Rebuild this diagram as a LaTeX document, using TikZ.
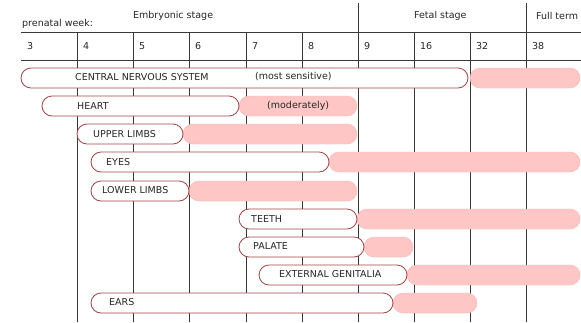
\documentclass[tikz,border=0pt]{standalone}
\usepackage{fontspec}
\setmainfont{DejaVu Sans}
\usetikzlibrary{shapes.misc}
\definecolor{gridc}{RGB}{55,55,55}
\definecolor{barline}{RGB}{160,70,70}
\definecolor{pinkfill}{RGB}{255,198,198}
\begin{document}
\begin{tikzpicture}[x=1pt,y=-1pt,
  every node/.style={font=\fontsize{9.5}{11}\selectfont, text=black!85},
  grid/.style={draw=gridc, line width=0.8pt},
  wbar/.style={rounded rectangle, draw=barline, fill=white, line width=0.8pt, minimum height=20pt, inner sep=0pt},
  pbar/.style={rounded rectangle, fill=pinkfill, draw=pinkfill!90!barline, line width=0.4pt, minimum height=20pt, inner sep=0pt},
  lab/.style={anchor=west, inner sep=0pt}]
\useasboundingbox (0,0) rectangle (581,322);
\fill[white] (0,0) rectangle (581,322);
% grid
\coordinate (hl1a) at (21,32); \coordinate (hl1b) at (581,32);
\coordinate (hl2a) at (21,60); \coordinate (hl2b) at (581,60);
\draw[grid] (hl1a) -- (hl1b);
\draw[grid] (hl2a) -- (hl2b);
\foreach \x in {77,133,189,246,302,358,414,470,526}{
  \draw[grid] (\x,32) -- (\x,322);
}
\draw[grid] (358,3) -- (358,32);
\draw[grid] (526,3) -- (526,32);
% header texts
\node[lab] (pw) at (22,24) {prenatal week:};
\node[lab] (emb) at (133,16) {Embryonic stage};
\node[lab] (fet) at (414,16) {Fetal stage};
\node[lab] (ft) at (536,16) {Full term};
\foreach \x/\t in {21/3,77/4,133/5,189/6,246/7,302/8,358/9,414/16,470/32,526/38}{
  \node[lab] (wk\t) at (\x+6,46) {\t};
}
% bars: pink parts
\node[pbar, minimum width=110pt] (cnsp) at (525,78) {};
\node[pbar, minimum width=118pt] (heartp) at (298,106) {};
\node[pbar, minimum width=174pt] (upperp) at (270,134) {};
\node[pbar, minimum width=251pt] (eyesp) at (454.5,162) {};
\node[pbar, minimum width=168pt] (lowerp) at (273,191) {};
\node[pbar, minimum width=223pt] (teethp) at (468.5,219) {};
\node[pbar, minimum width=49pt] (palatep) at (388.5,247) {};
\node[pbar, minimum width=173pt] (extp) at (493.5,275) {};
\node[pbar, minimum width=84pt] (earsp) at (435,303) {};
% bars: white parts
\node[wbar, minimum width=447pt] (cns) at (244.5,78) {};
\node[wbar, minimum width=197pt] (heart) at (140.5,106) {};
\node[wbar, minimum width=106pt] (upper) at (130,134) {};
\node[wbar, minimum width=238pt] (eyes) at (210,162) {};
\node[wbar, minimum width=98pt] (lower) at (140,191) {};
\node[wbar, minimum width=118pt] (teeth) at (298,219) {};
\node[wbar, minimum width=125pt] (palate) at (301.5,247) {};
\node[wbar, minimum width=148pt] (ext) at (333,275) {};
\node[wbar, minimum width=302pt] (ears) at (242,303) {};
% labels
\node[lab] (cnst) at (75,77) {CENTRAL NERVOUS SYSTEM};
\node[lab] (cnss) at (255,77) {(most sensitive)};
\node[lab] (heartt) at (77,106) {HEART};
\node[lab] (heartm) at (267,106) {(moderately)};
\node[lab] (uppert) at (93,134) {UPPER LIMBS};
\node[lab] (eyest) at (106,162) {EYES};
\node[lab] (lowert) at (102,190) {LOWER LIMBS};
\node[lab] (teetht) at (251,219) {TEETH};
\node[lab] (palatet) at (253,246) {PALATE};
\node[lab] (extt) at (279,274) {EXTERNAL GENITALIA};
\node[lab] (earst) at (109,302) {EARS};
\end{tikzpicture}
\end{document}
